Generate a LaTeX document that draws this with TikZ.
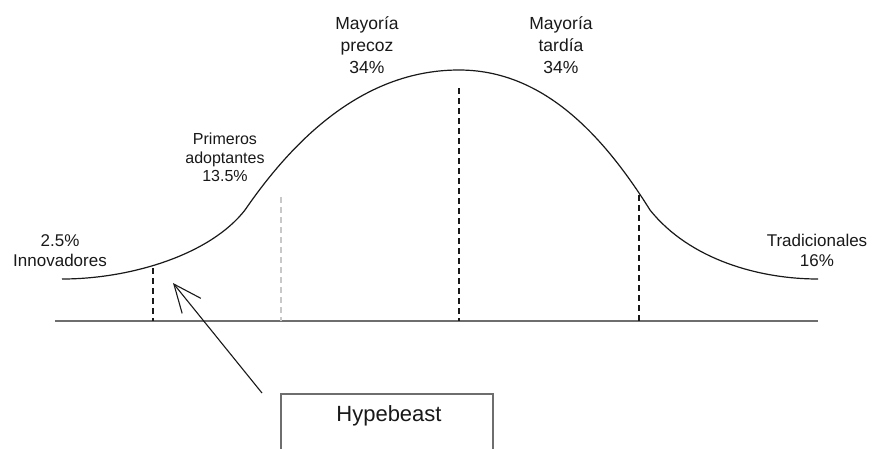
\documentclass[tikz,border=0pt]{standalone}
\usepackage{fontspec}
\setmainfont{Liberation Sans}
\usetikzlibrary{arrows.meta}
\definecolor{ink}{RGB}{25,25,25}
\definecolor{frame}{RGB}{110,110,110}
\definecolor{lightdash}{RGB}{200,200,200}
\begin{document}
\begin{tikzpicture}[x=1pt,y=-1pt,
  lbl/.style={inner sep=0pt, align=center, text=ink, font=\fontsize{17.5}{22}\selectfont},
  lblsmall/.style={inner sep=0pt, align=center, text=ink, font=\fontsize{16}{18.5}\selectfont},
  lblside/.style={inner sep=0pt, align=center, text=ink, font=\fontsize{17}{20}\selectfont},
  divider/.style={ink, line width=1.1pt, dash pattern=on 6pt off 4pt},
  curve/.style={ink, line width=1.2pt},
  axisline/.style={frame, line width=1.5pt},
  boxstyle/.style={draw=frame, line width=1.5pt, minimum width=212pt, minimum height=70pt, inner sep=0pt},
  pointer/.style={ink, line width=1.1pt, -{Straight Barb[length=28pt, width=24pt, line width=1.1pt]}}
]
\useasboundingbox (0,0) rectangle (872,448);
\fill[white] (0,0) rectangle (872,448);

% axis
\coordinate (axL) at (55,321);
\coordinate (axR) at (818,321);
\draw[axisline] (axL) -- (axR);

% dividers
\coordinate (d1t) at (153,268); \coordinate (d1b) at (153,321);
\coordinate (d2t) at (281,197); \coordinate (d2b) at (281,321);
\coordinate (d3t) at (459,88);  \coordinate (d3b) at (459,321);
\coordinate (d4t) at (639,195); \coordinate (d4b) at (639,321);
\draw[divider] (d1t) -- (d1b);
\draw[lightdash, line width=1.1pt, dash pattern=on 6pt off 4pt] (d2t) -- (d2b);
\draw[divider] (d3t) -- (d3b);
\draw[divider] (d4t) -- (d4b);

% bell curve
\draw[curve] (62,279) .. controls (130,279) and (210,255) .. (245,210)
  .. controls (300,130) and (370,70) .. (459,70)
  .. controls (540,70) and (600,130) .. (650,210)
  .. controls (690,260) and (760,279) .. (818,279);

% labels
\node[lblside, anchor=north] (innov) at (60,234) {2.5\%\\Innovadores};
\node[lblsmall, anchor=north] (prim) at (225,133) {Primeros\\adoptantes\\13.5\%};
\node[lbl, anchor=north] (precoz) at (367,16) {Mayoría\\precoz\\34\%};
\node[lbl, anchor=north] (tardia) at (561,16) {Mayoría\\tardía\\34\%};
\node[lblside, anchor=north] (trad) at (817,234) {Tradicionales\\16\%};

% box
\node[boxstyle, anchor=north west] (hype) at (280,393) {};
\node[inner sep=0pt, text=ink, font=\fontsize{22}{26}\selectfont, anchor=base] (hypetxt) at (389,421) {Hypebeast};

% arrow
\coordinate (arrS) at (262,393);
\coordinate (arrE) at (173,283);
\draw[pointer] (arrS) -- (arrE);
\end{tikzpicture}
\end{document}
